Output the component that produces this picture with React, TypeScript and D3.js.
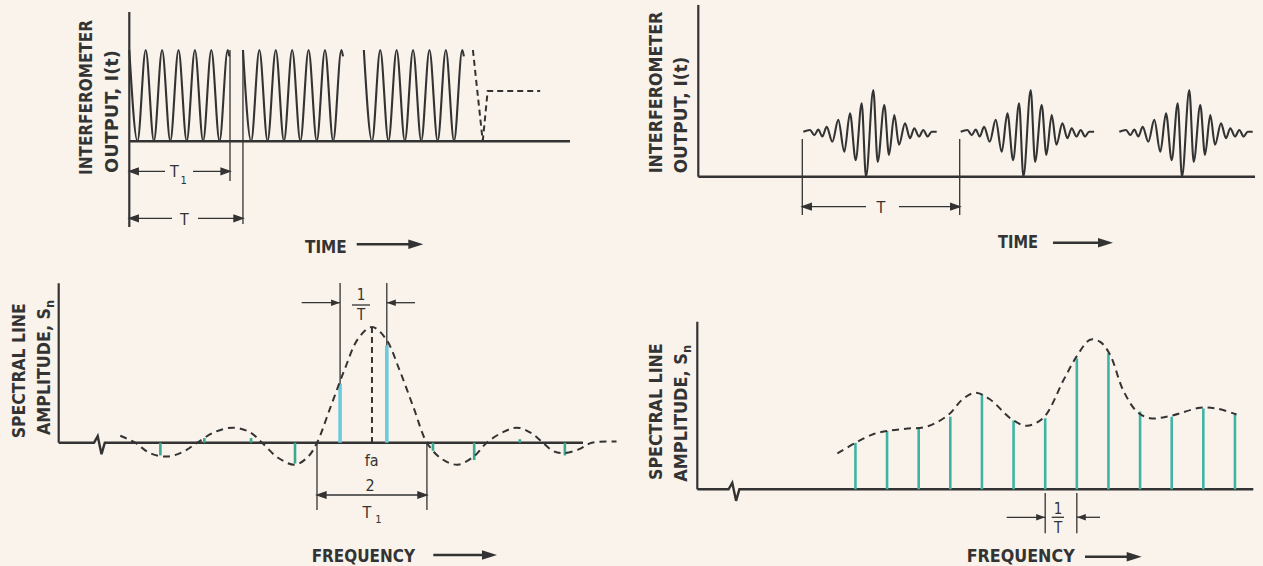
import React, { useEffect } from 'react';
import * as d3 from 'd3';

// ================= DATA =================
// Panel 1 (top-left): interrupted fringes. time in fringe periods, level relative to fringe peak
const fringeTimes = [0, 0.5, 1, 1.5, 2, 2.5, 3, 3.5, 4, 4.5, 5, 5.5, 6, 6.1];
const fringeLevels = [1, 0, 1, 0, 1, 0, 1, 0, 1, 0, 1, 0, 1, 0.93];
const groupStarts = [0, 6.93, 14.3];
const durationT1 = 6.14;
const durationT = 6.93;
const tailTimes = [20.95, 21.55];
const tailLevels = [1, 0];
const stepTimes = [21.55, 21.85, 25.05];
const stepLevels = [0, 0.55, 0.55];

// Panel 2 (top-right): wave packets. offset from packet centre, level relative to mean output
const packetCenters = [17.5, 33.24, 49.1];
const packetOffsets = [-7.0, -6.33, -5.9, -5.5, -5.1, -4.66, -4.1, -3.5, -2.9, -2.33, -1.76, -1.16, -0.73, 0, 0.44, 1.1, 1.57, 2.1, 2.57, 3.17, 3.67, 4.1, 4.57, 5.0, 5.44, 5.84, 6.34];
const packetLevels = [1.03, 1.07, 0.95, 1.08, 0.92, 1.14, 0.8, 1.3, 0.57, 1.45, 0.38, 1.68, 0, 1.98, 0.34, 1.64, 0.5, 1.41, 0.73, 1.22, 0.88, 1.11, 0.92, 1.07, 0.92, 1.03, 1.03];
const packetStartOffset = -7.1;

// Panel 3 (bottom-left): sinc envelope and spectral lines. freq in units of 1/T1 from fa
const envFreq = [-4.58, -4.31, -4.04, -3.73, -3.44, -3.18, -2.87, -2.53, -2.22, -2.0, -1.71, -1.4, -1.16, -1.0, -0.76, -0.5, -0.25, 0, 0.25, 0.5, 0.76, 1.0, 1.27, 1.56, 1.85, 2.09, 2.38, 2.65, 2.91, 3.11, 3.29, 3.47, 3.75, 4.0, 4.45];
const envAmp = [0.06, 0, -0.09, -0.12, -0.08, 0, 0.09, 0.13, 0.09, 0, -0.13, -0.19, -0.12, 0, 0.3, 0.63, 0.9, 1.0, 0.9, 0.63, 0.3, 0, -0.14, -0.19, -0.12, 0, 0.09, 0.13, 0.08, 0, -0.07, -0.09, -0.06, 0, 0.01];
const lineFreq = [-3.85, -3.05, -2.2, -1.4, -0.58, 0.27, 1.11, 1.86, 2.69, 3.51];
const lineAmp = [-0.11, 0.04, 0.04, -0.18, 0.51, 0.84, -0.07, -0.15, 0.03, -0.11];
const mainLines = [4, 5];

// Panel 4 (bottom-right): spectral lines under a broad envelope. freq in units of 1/T
const lineN = [0, 1, 2, 3, 4, 5, 6, 7, 8, 9, 10, 11, 12];
const lineNAmp = [0.31, 0.39, 0.41, 0.485, 0.63, 0.46, 0.475, 0.875, 0.91, 0.52, 0.485, 0.54, 0.5];
const envN = [-0.57, 0, 0.58, 1.0, 1.6, 2.27, 2.95, 3.38, 3.79, 4.26, 4.93, 5.42, 5.95, 6.58, 7.0, 7.42, 7.74, 8.05, 8.47, 8.9, 9.32, 9.95, 10.9, 11.42, 12.05];
const envNAmp = [0.24, 0.31, 0.37, 0.39, 0.405, 0.42, 0.5, 0.6, 0.645, 0.6, 0.47, 0.425, 0.48, 0.73, 0.89, 1.0, 0.985, 0.9, 0.66, 0.52, 0.475, 0.49, 0.545, 0.54, 0.5];

// ================= STYLE =================
const W = 1263;
const H = 566;
const BG = '#f9f3eb';
const INK = '#333333';
const CYAN = '#6ccade';
const TEAL = '#3aa98f';
const TEAL2 = '#3fb4a6';
const FONT = "'Liberation Sans Narrow', 'DejaVu Sans Condensed', 'Liberation Sans', Arial, sans-serif";

type P = [number, number];

const Head = ({ x, y, dir, len = 9, hw = 3.2 }: { x: number; y: number; dir: number; len?: number; hw?: number }) => (
  <path d={`M${x},${y}L${x - dir * len},${y - hw}L${x - dir * len},${y + hw}Z`} fill={INK} />
);

const BigArrow = ({ x1, x2, y }: { x1: number; x2: number; y: number }) => (
  <g>
    <line x1={x1} x2={x2 - 8} y1={y} y2={y} stroke={INK} strokeWidth={2.4} />
    <Head x={x2} y={y} dir={1} len={15} hw={4.8} />
  </g>
);

const DimLine = ({ x1, x2, y, gap }: { x1: number; x2: number; y: number; gap?: [number, number] }) => (
  <g stroke={INK} strokeWidth={1.3}>
    {gap ? (
      <>
        <line x1={x1} x2={gap[0]} y1={y} y2={y} />
        <line x1={gap[1]} x2={x2} y1={y} y2={y} />
      </>
    ) : (
      <line x1={x1} x2={x2} y1={y} y2={y} />
    )}
    <Head x={x1} y={y} dir={-1} />
    <Head x={x2} y={y} dir={1} />
  </g>
);

const VText = ({ x, y, len, children }: { x: number; y: number; len: number; children: React.ReactNode }) => (
  <text
    transform={`translate(${x},${y}) rotate(-90)`}
    fontSize={17}
    fontWeight={600}
    fill={INK}
    textLength={len}
    lengthAdjust="spacingAndGlyphs"
  >
    {children}
  </text>
);

const HText = ({ x, y, len, children }: { x: number; y: number; len: number; children: React.ReactNode }) => (
  <text x={x} y={y} fontSize={17} fontWeight={600} fill={INK} textLength={len} lengthAdjust="spacingAndGlyphs">
    {children}
  </text>
);

const breakPath = (bx: number, by: number) =>
  `L${bx - 7},${by}L${bx - 3.3},${by - 6.5}L${bx + 0.5},${by + 11.5}L${bx + 3.8},${by}`;

export default function App() {
  useEffect(() => {
    document.body.style.margin = '0';
    document.body.style.background = BG;
  }, []);

  // ---------- Panel 1 ----------
  const xA = d3.scaleLinear().domain([0, 26.87]).range([129.3, 570]);
  const yA = d3.scaleLinear().domain([0, 1]).range([141.3, 50]);
  const lineA = d3
    .line<P>()
    .x((d) => xA(d[0]))
    .y((d) => yA(d[1]))
    .curve(d3.curveMonotoneX);
  const lineALin = d3
    .line<P>()
    .x((d) => xA(d[0]))
    .y((d) => yA(d[1]));
  const groups = groupStarts.map((g) => fringeTimes.map((t, i) => [g + t, fringeLevels[i]] as P));
  const tail = tailTimes.map((t, i) => [t, tailLevels[i]] as P);
  const step = stepTimes.map((t, i) => [t, stepLevels[i]] as P);
  const xT1 = xA(durationT1);
  const xT = xA(durationT);

  // ---------- Panel 2 ----------
  const xB = d3.scaleLinear().domain([0, 55.67]).range([698.3, 1255]);
  const yB = d3.scaleLinear().domain([0, 1]).range([176.7, 133]);
  const lineB = d3
    .line<P>()
    .x((d) => xB(d[0]))
    .y((d) => yB(d[1]))
    .curve(d3.curveMonotoneX);
  const packets = packetCenters.map((c) => packetOffsets.map((o, i) => [c + o, packetLevels[i]] as P));
  const pStart1 = xB(packetCenters[0] + packetStartOffset);
  const pStart2 = xB(packetCenters[1] + packetStartOffset);

  // ---------- Panel 3 ----------
  const xC = d3.scaleLinear().domain([-5.7, 3.84]).range([58.7, 583]);
  const yC = d3.scaleLinear().domain([0, 1]).range([442.7, 327]);
  const lineC = d3
    .line<P>()
    .x((d) => xC(d[0]))
    .y((d) => yC(d[1]))
    .curve(d3.curveCatmullRom.alpha(0.5));
  const envC = envFreq.map((f, i) => [f, envAmp[i]] as P);
  const baseC = yC(0);
  const ext1 = xC(lineFreq[mainLines[0]]);
  const ext2 = xC(lineFreq[mainLines[1]]);

  // ---------- Panel 4 ----------
  const xD = d3.scaleLinear().domain([-5, 12.58]).range([697.3, 1253.3]);
  const yD = d3.scaleLinear().domain([0, 1]).range([489.3, 339.7]);
  const lineD = d3
    .line<P>()
    .x((d) => xD(d[0]))
    .y((d) => yD(d[1]))
    .curve(d3.curveCatmullRom.alpha(0.5));
  const envD = envN.map((n, i) => [n, envNAmp[i]] as P);
  const baseD = yD(0);
  const extD1 = xD(lineN[6]);
  const extD2 = xD(lineN[7]);

  return (
    <svg
      width={W}
      height={H}
      viewBox={`0 0 ${W} ${H}`}
      style={{ position: 'absolute', left: 0, top: 0, display: 'block', background: BG }}
      fontFamily={FONT}
    >
      <rect x={0} y={0} width={W} height={H} fill={BG} />

      {/* ================= PANEL 1 ================= */}
      <g>
        <line x1={xA(0)} x2={xA(0)} y1={yA(1.416)} y2={227} stroke={INK} strokeWidth={2.2} />
        <line x1={xA(0)} x2={xA(26.87)} y1={yA(0)} y2={yA(0)} stroke={INK} strokeWidth={2.4} />
        {groups.map((g, i) => (
          <path key={i} d={lineA(g) || ''} fill="none" stroke={INK} strokeWidth={2.1} />
        ))}
        <path d={lineA(tail) || ''} fill="none" stroke={INK} strokeWidth={2} strokeDasharray="6 4" />
        <path d={lineALin(step) || ''} fill="none" stroke={INK} strokeWidth={2} strokeDasharray="6 4" />
        <line x1={xT1} x2={xT1} y1={yA(1)} y2={181} stroke={INK} strokeWidth={1.3} />
        <line x1={xT} x2={xT} y1={yA(1)} y2={224} stroke={INK} strokeWidth={1.3} />
        <DimLine x1={xA(0)} x2={xT1} y={171.3} gap={[165, 193]} />
        <text x={170} y={177} fontSize={16} fill={INK}>T</text>
        <text x={180.5} y={184} fontSize={11} fill={INK}>1</text>
        <DimLine x1={xA(0)} x2={xT} y={218.3} gap={[172, 198]} />
        <text x={180} y={225} fontSize={16} fill={INK}>T</text>
        <VText x={92.3} y={175} len={155}>INTERFEROMETER</VText>
        <VText x={117.5} y={173} len={123}>OUTPUT, I(t)</VText>
        <HText x={305} y={253} len={41.7}>TIME</HText>
        <BigArrow x1={356.7} x2={423.3} y={244.3} />
      </g>

      {/* ================= PANEL 2 ================= */}
      <g>
        <line x1={xB(0)} x2={xB(0)} y1={yB(3.93)} y2={yB(0)} stroke={INK} strokeWidth={2.2} />
        <line x1={xB(0)} x2={xB(55.67)} y1={yB(0)} y2={yB(0)} stroke={INK} strokeWidth={2.4} />
        {packets.map((p, i) => (
          <path key={i} d={lineB(p) || ''} fill="none" stroke={INK} strokeWidth={2.1} />
        ))}
        <line x1={pStart1} x2={pStart1} y1={139} y2={215} stroke={INK} strokeWidth={1.3} />
        <line x1={pStart2} x2={pStart2} y1={139} y2={215} stroke={INK} strokeWidth={1.3} />
        <DimLine x1={pStart1} x2={pStart2} y={206.7} gap={[866, 899]} />
        <text x={876.5} y={213} fontSize={16} fill={INK}>T</text>
        <VText x={662} y={173.3} len={161.6}>INTERFEROMETER</VText>
        <VText x={687} y={173.3} len={116.6}>OUTPUT, I(t)</VText>
        <HText x={998} y={248} len={40}>TIME</HText>
        <BigArrow x1={1053} x2={1113} y={242.7} />
      </g>

      {/* ================= PANEL 3 ================= */}
      <g>
        <line x1={xC(-5.7)} x2={xC(-5.7)} y1={yC(1.378)} y2={baseC} stroke={INK} strokeWidth={2.2} />
        <path
          d={`M${xC(-5.7)},${baseC}${breakPath(xC(-4.93), baseC)}L${xC(3.84)},${baseC}`}
          fill="none"
          stroke={INK}
          strokeWidth={2.4}
        />
        {lineFreq.map((f, i) => (
          <line
            key={i}
            x1={xC(f)}
            x2={xC(f)}
            y1={baseC}
            y2={yC(lineAmp[i])}
            stroke={mainLines.includes(i) ? CYAN : TEAL}
            strokeWidth={mainLines.includes(i) ? 3.6 : 2.6}
          />
        ))}
        <path d={lineC(envC) || ''} fill="none" stroke={INK} strokeWidth={2} strokeDasharray="7 5" />
        <line x1={xC(0)} x2={xC(0)} y1={yC(1)} y2={baseC} stroke={INK} strokeWidth={2} strokeDasharray="6 4" />
        <line x1={ext1} x2={ext1} y1={283} y2={yC(lineAmp[mainLines[0]])} stroke={INK} strokeWidth={1.3} />
        <line x1={ext2} x2={ext2} y1={283} y2={yC(lineAmp[mainLines[1]])} stroke={INK} strokeWidth={1.3} />
        <line x1={301.7} x2={ext1} y1={302.7} y2={302.7} stroke={INK} strokeWidth={1.3} />
        <Head x={ext1} y={302.7} dir={1} />
        <line x1={415} x2={ext2} y1={302.7} y2={302.7} stroke={INK} strokeWidth={1.3} />
        <Head x={ext2} y={302.7} dir={-1} />
        <text x={361} y={300} fontSize={15} fill={INK} textAnchor="middle">1</text>
        <line x1={352} x2={370} y1={305} y2={305} stroke={INK} strokeWidth={1.3} />
        <text x={361} y={320} fontSize={15} fill={INK} textAnchor="middle">T</text>
        <text x={371.7} y={466} fontSize={16} fill={INK} textAnchor="middle">fa</text>
        <line x1={xC(-1)} x2={xC(-1)} y1={baseC} y2={510} stroke={INK} strokeWidth={1.3} />
        <line x1={xC(1)} x2={xC(1)} y1={baseC} y2={510} stroke={INK} strokeWidth={1.3} />
        <DimLine x1={xC(-1)} x2={xC(1)} y={495} />
        <text x={370} y={490.5} fontSize={16} fill={INK} textAnchor="middle">2</text>
        <text x={367} y={517.5} fontSize={16} fill={INK} textAnchor="middle">T</text>
        <text x={378.5} y={523} fontSize={11} fill={INK} textAnchor="middle">1</text>
        <VText x={25} y={438.3} len={135}>SPECTRAL LINE</VText>
        <VText x={50} y={435} len={135}>
          AMPLITUDE, S<tspan fontSize={12} dy={4}>n</tspan>
        </VText>
        <HText x={311.7} y={562} len={103.3}>FREQUENCY</HText>
        <BigArrow x1={433.3} x2={497} y={555} />
      </g>

      {/* ================= PANEL 4 ================= */}
      <g>
        <line x1={xD(-5)} x2={xD(-5)} y1={yD(1.12)} y2={baseD} stroke={INK} strokeWidth={2.2} />
        <path
          d={`M${xD(-5)},${baseD}${breakPath(xD(-3.79), baseD)}L${xD(12.58)},${baseD}`}
          fill="none"
          stroke={INK}
          strokeWidth={2.4}
        />
        {lineN.map((n, i) => (
          <line key={i} x1={xD(n)} x2={xD(n)} y1={baseD} y2={yD(lineNAmp[i])} stroke={TEAL2} strokeWidth={2.6} />
        ))}
        <path d={lineD(envD) || ''} fill="none" stroke={INK} strokeWidth={2} strokeDasharray="7 5" />
        <line x1={extD1} x2={extD1} y1={493} y2={533.3} stroke={INK} strokeWidth={1.3} />
        <line x1={extD2} x2={extD2} y1={493} y2={533.3} stroke={INK} strokeWidth={1.3} />
        <line x1={1006.7} x2={extD1} y1={517.3} y2={517.3} stroke={INK} strokeWidth={1.3} />
        <Head x={extD1} y={517.3} dir={1} />
        <line x1={1100} x2={extD2} y1={517.3} y2={517.3} stroke={INK} strokeWidth={1.3} />
        <Head x={extD2} y={517.3} dir={-1} />
        <text x={1058} y={513.5} fontSize={15} fill={INK} textAnchor="middle">1</text>
        <line x1={1051.7} x2={1064} y1={517.3} y2={517.3} stroke={INK} strokeWidth={1.3} />
        <text x={1058} y={533.3} fontSize={15} fill={INK} textAnchor="middle">T</text>
        <VText x={662} y={480} len={136.7}>SPECTRAL LINE</VText>
        <VText x={687} y={481.7} len={136.7}>
          AMPLITUDE, S<tspan fontSize={12} dy={4}>n</tspan>
        </VText>
        <HText x={966.7} y={562} len={108}>FREQUENCY</HText>
        <BigArrow x1={1085} x2={1141.7} y={556.7} />
      </g>
    </svg>
  );
}
